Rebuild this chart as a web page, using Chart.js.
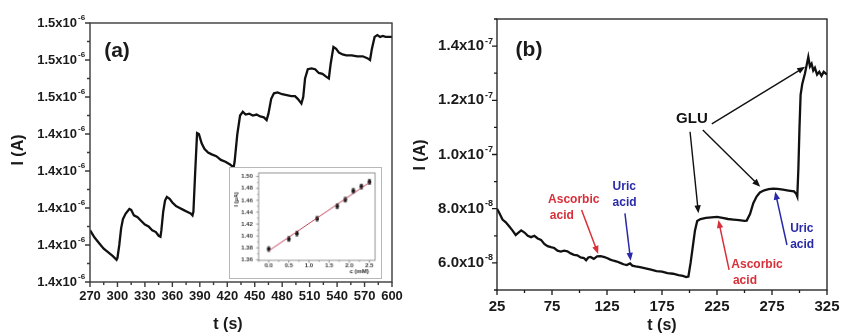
<!DOCTYPE html>
<html>
<head>
<meta charset="utf-8">
<script src="https://cdn.jsdelivr.net/npm/chart.js@4.4.1/dist/chart.umd.min.js"></script>
<style>
  body { margin: 0; background: #fff; }
  #wrap { position: relative; width: 842px; height: 336px; overflow: hidden; }
  #chart-a { position: absolute; left: 0; top: 0; }
  #chart-b { position: absolute; left: 400px; top: 0; }
  #chart-inset { position: absolute; left: 229px; top: 167px; border: 1px solid #b8b8b8; box-sizing: border-box; background: #fff; }
</style>
</head>
<body>
<div id="wrap">
  <canvas id="chart-a" width="420" height="336"></canvas>
  <canvas id="chart-b" width="442" height="336"></canvas>
  <canvas id="chart-inset" width="153" height="112"></canvas>
</div>
<script>
// panel (a): t in s, I in µA (axis shows 10^-6 A)
const tA = [270, 275, 280, 285, 290, 295, 299, 300, 302, 304, 306, 309, 313, 315, 318, 322, 326, 330, 334, 338,
  342, 345, 347, 348, 350, 352, 354, 357, 360, 364, 368, 372, 376, 380, 382, 383, 385, 387, 389, 392,
  395, 399, 403, 408, 413, 418, 423, 427, 428, 431, 434, 437, 440, 444, 448, 452, 456, 460, 463, 465,
  468, 471, 475, 480, 485, 490, 494, 497, 501, 503, 505, 508, 512, 516, 520, 524, 528, 531, 533, 536,
  539, 542, 546, 550, 556, 562, 568, 573, 576, 578, 581, 584, 587, 590, 593, 596, 600];
const iA = [1.388, 1.384, 1.381, 1.378, 1.376, 1.374, 1.372, 1.373, 1.380, 1.389, 1.394, 1.397, 1.3995, 1.399, 1.396, 1.395, 1.393, 1.391, 1.390, 1.388,
  1.387, 1.385, 1.3845, 1.388, 1.398, 1.404, 1.406, 1.405, 1.403, 1.401, 1.400, 1.399, 1.398, 1.397, 1.396, 1.398, 1.420, 1.4405, 1.440, 1.435,
  1.432, 1.430, 1.429, 1.428, 1.426, 1.425, 1.4235, 1.422, 1.425, 1.440, 1.450, 1.452, 1.4505, 1.451, 1.450, 1.4505, 1.4495, 1.449, 1.4475, 1.451,
  1.459, 1.462, 1.4625, 1.4615, 1.461, 1.4605, 1.4605, 1.459, 1.4565, 1.460, 1.470, 1.475, 1.4755, 1.475, 1.473, 1.4725, 1.471, 1.470, 1.478, 1.487,
  1.486, 1.484, 1.483, 1.4825, 1.4825, 1.482, 1.482, 1.481, 1.480, 1.486, 1.4925, 1.4935, 1.4925, 1.493, 1.4925, 1.4925, 1.4925];

// inset: calibration, c in mM, I in µA
const cIn = [0.0, 0.5, 0.7, 1.2, 1.7, 1.9, 2.1, 2.3, 2.5];
const iIn = [1.378, 1.395, 1.404, 1.429, 1.450, 1.461, 1.476, 1.483, 1.491];
const errIn = [0.004, 0.004, 0.004, 0.004, 0.004, 0.004, 0.004, 0.004, 0.004];
const fitC = [0.0, 2.5];
const fitI = [1.375, 1.490];

// panel (b): t in s, I in 10^-8 A
const tB = [25, 27, 30, 33, 36, 39, 42, 44, 47, 50, 53, 56, 59, 62, 65, 68, 71, 74, 77, 80,
  83, 86, 89, 92, 95, 98, 101, 104, 106, 108, 110, 113, 116, 119, 122, 125, 128, 131, 134, 137,
  140, 143, 146, 148, 151, 155, 160, 165, 170, 175, 180, 185, 190, 194, 197, 199, 201, 203, 205, 207,
  210, 215, 220, 225, 230, 235, 240, 245, 250, 252, 255, 258, 261, 264, 268, 272, 276, 280, 285, 290,
  295, 297, 298, 299, 300, 301, 302.5, 305, 307, 308, 309.5, 311, 312.5, 314, 316, 318, 320, 322, 325];
const iB = [8.0, 7.85, 7.6, 7.5, 7.35, 7.2, 7.03, 7.1, 7.2, 7.12, 7.0, 6.95, 7.0, 6.9, 6.85, 6.7, 6.62, 6.58, 6.55, 6.45,
  6.42, 6.45, 6.43, 6.35, 6.3, 6.28, 6.2, 6.18, 6.1, 6.2, 6.22, 6.15, 6.24, 6.25, 6.22, 6.18, 6.12, 6.08, 6.05, 6.0,
  5.95, 5.92, 5.98, 5.9, 5.87, 5.84, 5.8, 5.75, 5.7, 5.68, 5.62, 5.6, 5.55, 5.52, 5.48, 5.5, 6.0, 6.6, 7.2, 7.55,
  7.62, 7.66, 7.68, 7.7, 7.66, 7.62, 7.6, 7.58, 7.55, 7.56, 7.8, 8.2, 8.45, 8.6, 8.68, 8.72, 8.74, 8.73, 8.7, 8.67,
  8.64, 8.55, 8.45, 9.5, 11.0, 12.2, 12.6, 13.0, 13.4, 13.6, 13.25, 13.35, 13.1, 13.2, 12.95, 13.05, 12.9, 13.05, 12.95];

// panel (b) annotations, in data units
const noteText = ['GLU', 'Ascorbic', 'acid', 'Uric', 'acid', 'Ascorbic', 'acid', 'Uric', 'acid'];
const noteT = [202.2, 71.4, 73, 130.1, 130.1, 238, 239.5, 291.5, 291.5];
const noteV = [11.33, 8.35, 7.74, 8.81, 8.22, 5.92, 5.34, 7.28, 6.66];
const noteColor = ['#111', '#d8303a', '#d8303a', '#2a2aa8', '#2a2aa8', '#d8303a', '#d8303a', '#2a2aa8', '#2a2aa8'];
const arrowFromT = [220.3, 200.5, 212.1, 101.9, 141.3, 236.0, 288.6];
const arrowFromV = [11.13, 10.84, 10.9, 7.95, 7.83, 5.74, 6.66];
const arrowToT = [305.2, 208.1, 264.3, 117.0, 146.5, 226.3, 277.9];
const arrowToV = [13.24, 7.83, 8.81, 6.33, 6.08, 7.58, 8.63];
const arrowColor = ['#111', '#111', '#111', '#d8303a', '#2a2aa8', '#d8303a', '#2a2aa8'];

Chart.defaults.font.family = '"Liberation Sans", Arial, sans-serif';
Chart.defaults.color = '#1a1a1a';

// frame, outward ticks (major/minor), superscript exponents, titles
const decor = {
  id: 'decor',
  afterDraw(chart, args, o) {
    const { ctx, chartArea: a } = chart;
    const x = chart.scales.x, y = chart.scales.y;
    ctx.save();
    ctx.strokeStyle = o.color;
    ctx.lineWidth = o.lw;
    ctx.strokeRect(a.left, a.top, a.right - a.left, a.bottom - a.top);
    ctx.beginPath();
    x.ticks.forEach((t) => {
      const px = x.getPixelForValue(t.value);
      if (px < a.left - 0.5 || px > a.right + 0.5) return;
      ctx.moveTo(px, a.bottom);
      ctx.lineTo(px, a.bottom + (t.label ? o.major : o.minor));
    });
    y.ticks.forEach((t) => {
      const py = y.getPixelForValue(t.value);
      if (py < a.top - 0.5 || py > a.bottom + 0.5) return;
      ctx.moveTo(a.left, py);
      ctx.lineTo(a.left - (t.label ? o.major : o.minor), py);
    });
    ctx.stroke();
    ctx.fillStyle = '#1a1a1a';
    if (o.exp) {
      ctx.font = o.expFont;
      ctx.textAlign = 'left';
      ctx.textBaseline = 'middle';
      y.ticks.forEach((t) => {
        if (!t.label) return;
        ctx.fillText(o.exp(t.value), a.left - y.options.ticks.padding + 1, y.getPixelForValue(t.value) - 5);
      });
    }
    (o.texts || []).forEach((s) => {
      ctx.save();
      ctx.font = s.font;
      ctx.textAlign = 'center';
      ctx.textBaseline = 'middle';
      const cx = s.fromLeft ? a.left + s.dx : (a.left + a.right) / 2 + s.dx;
      const cy = s.fromBottom ? a.bottom + s.dy : a.top + s.dy;
      ctx.translate(s.absX !== undefined ? s.absX : cx, s.absY !== undefined ? s.absY : cy);
      if (s.rot) ctx.rotate(s.rot);
      ctx.fillText(s.text, 0, 0);
      ctx.restore();
    });
    ctx.restore();
  }
};

const notes = {
  id: 'notes',
  afterDraw(chart) {
    const { ctx } = chart;
    const x = chart.scales.x, y = chart.scales.y;
    ctx.save();
    noteText.forEach((txt, i) => {
      ctx.font = i === 0 ? 'bold 15px "Liberation Sans", Arial' : 'bold 12px "Liberation Sans", Arial';
      ctx.fillStyle = noteColor[i];
      ctx.textAlign = i === 0 ? 'center' : 'left';
      ctx.textBaseline = 'middle';
      ctx.fillText(txt, x.getPixelForValue(noteT[i]), y.getPixelForValue(noteV[i]));
    });
    arrowFromT.forEach((_, i) => {
      const x0 = x.getPixelForValue(arrowFromT[i]), y0 = y.getPixelForValue(arrowFromV[i]);
      const x1 = x.getPixelForValue(arrowToT[i]), y1 = y.getPixelForValue(arrowToV[i]);
      const ang = Math.atan2(y1 - y0, x1 - x0);
      const hl = 8, hw = 3.2;
      ctx.strokeStyle = arrowColor[i];
      ctx.fillStyle = arrowColor[i];
      ctx.lineWidth = i < 3 ? 1.4 : 1.5;
      ctx.beginPath();
      ctx.moveTo(x0, y0);
      ctx.lineTo(x1 - Math.cos(ang) * hl * 0.8, y1 - Math.sin(ang) * hl * 0.8);
      ctx.stroke();
      ctx.beginPath();
      ctx.moveTo(x1, y1);
      ctx.lineTo(x1 - Math.cos(ang) * hl - Math.sin(ang) * hw, y1 - Math.sin(ang) * hl + Math.cos(ang) * hw);
      ctx.lineTo(x1 - Math.cos(ang) * hl + Math.sin(ang) * hw, y1 - Math.sin(ang) * hl - Math.cos(ang) * hw);
      ctx.closePath();
      ctx.fill();
    });
    ctx.restore();
  }
};

const errorBars = {
  id: 'errorBars',
  afterDatasetsDraw(chart) {
    const { ctx } = chart;
    const x = chart.scales.x, y = chart.scales.y;
    ctx.save();
    ctx.strokeStyle = '#222';
    ctx.lineWidth = 0.8;
    ctx.beginPath();
    cIn.forEach((c, i) => {
      const px = x.getPixelForValue(c);
      const top = y.getPixelForValue(iIn[i] + errIn[i]);
      const bot = y.getPixelForValue(iIn[i] - errIn[i]);
      ctx.moveTo(px, top); ctx.lineTo(px, bot);
      ctx.moveTo(px - 1.5, top); ctx.lineTo(px + 1.5, top);
      ctx.moveTo(px - 1.5, bot); ctx.lineTo(px + 1.5, bot);
    });
    ctx.stroke();
    ctx.restore();
  }
};

function fixX(h) {
  return (s) => { s.height = h; s.paddingLeft = 0; s.paddingRight = 0; };
}
function fixY(w) {
  return (s) => { s.width = w; s.paddingTop = 0; s.paddingBottom = 0; };
}
const noGrid = { display: false, drawTicks: false };

// (a)
new Chart(document.getElementById('chart-a'), {
  type: 'line',
  data: {
    datasets: [{
      data: tA.map((t, i) => ({ x: t, y: iA[i] })),
      borderColor: '#111',
      borderWidth: 2.3,
      pointRadius: 0,
      tension: 0,
    }],
  },
  options: {
    responsive: false,
    animation: false,
    layout: { padding: { left: 0, top: 23, right: 28, bottom: 0 } },
    plugins: {
      legend: { display: false },
      tooltip: { enabled: false },
      decor: {
        color: '#3a3a3a', lw: 1.4, major: 5, minor: 3,
        exp: () => '-6', expFont: 'bold 8px "Liberation Sans", Arial',
        texts: [
          { text: '(a)', font: 'bold 21px "Liberation Sans", Arial', fromLeft: true, dx: 27, dy: 28 },
          { text: 't (s)', font: 'bold 16px "Liberation Sans", Arial', dx: -13, fromBottom: true, dy: 43 },
          { text: 'I (A)', font: 'bold 16px "Liberation Sans", Arial', absX: 19, absY: 150, rot: -Math.PI / 2 },
        ],
      },
    },
    scales: {
      x: {
        type: 'linear', min: 270, max: 600,
        grid: noGrid, border: { display: false },
        afterFit: fixX(54),
        ticks: {
          stepSize: 15, includeBounds: false, maxRotation: 0, autoSkip: false, padding: 7,
          font: { size: 13, weight: 'bold' },
          callback: (v) => (v % 30 === 0 ? String(v) : ''),
        },
      },
      y: {
        type: 'linear', min: 1.36, max: 1.50,
        grid: noGrid, border: { display: false },
        afterFit: fixY(90),
        ticks: {
          stepSize: 0.01, includeBounds: false, autoSkip: false, padding: 13,
          font: { size: 13, weight: 'bold' },
          callback: (v) => (Math.round(v * 100) % 2 === 0 ? v.toFixed(1) + 'x10' : ''),
        },
      },
    },
  },
  plugins: [decor],
});

// inset
new Chart(document.getElementById('chart-inset'), {
  type: 'scatter',
  data: {
    datasets: [
      {
        type: 'line',
        data: fitC.map((c, i) => ({ x: c, y: fitI[i] })),
        borderColor: '#c2435a',
        borderWidth: 1,
        pointRadius: 0,
      },
      {
        data: cIn.map((c, i) => ({ x: c, y: iIn[i] })),
        pointStyle: 'rect',
        pointRadius: 1.8,
        backgroundColor: '#111',
        borderColor: '#111',
      },
    ],
  },
  options: {
    responsive: false,
    animation: false,
    layout: { padding: { left: 0, top: 5, right: 6, bottom: 0 } },
    plugins: {
      legend: { display: false },
      tooltip: { enabled: false },
      decor: {
        color: '#777', lw: 0.8, major: 2.5, minor: 1.5,
        texts: [
          { text: 'c (mM)', font: 'bold 6px "Liberation Sans", Arial', absX: 131, absY: 105 },
          { text: 'I (\u00b5A)', font: 'bold 6px "Liberation Sans", Arial', absX: 6, absY: 32, rot: -Math.PI / 2 },
        ],
      },
    },
    scales: {
      x: {
        type: 'linear', min: -0.25, max: 2.64,
        grid: noGrid, border: { display: false },
        afterFit: fixX(18),
        ticks: {
          stepSize: 0.25, includeBounds: false, autoSkip: false, maxRotation: 0, padding: 2,
          font: { size: 6, weight: 'bold' }, color: '#333',
          callback: (v) => (v >= 0 && Math.round(v * 4) % 2 === 0 ? v.toFixed(1) : ''),
        },
      },
      y: {
        type: 'linear', min: 1.359, max: 1.506,
        grid: noGrid, border: { display: false },
        afterFit: fixY(29),
        ticks: {
          stepSize: 0.01, includeBounds: false, autoSkip: false, padding: 6,
          font: { size: 6, weight: 'bold' }, color: '#333',
          callback: (v) => (Math.round(v * 100) % 2 === 0 ? v.toFixed(2) : ''),
        },
      },
    },
  },
  plugins: [decor, errorBars],
});

// (b)
new Chart(document.getElementById('chart-b'), {
  type: 'line',
  data: {
    datasets: [{
      data: tB.map((t, i) => ({ x: t, y: iB[i] })),
      borderColor: '#111',
      borderWidth: 2.3,
      pointRadius: 0,
      tension: 0,
    }],
  },
  options: {
    responsive: false,
    animation: false,
    layout: { padding: { left: 0, top: 19, right: 15, bottom: 0 } },
    plugins: {
      legend: { display: false },
      tooltip: { enabled: false },
      decor: {
        color: '#1a1a1a', lw: 1.3, major: 5, minor: 3,
        exp: (v) => (v >= 10 ? '-7' : '-8'), expFont: 'bold 9px "Liberation Sans", Arial',
        texts: [
          { text: '(b)', font: 'bold 21px "Liberation Sans", Arial', fromLeft: true, dx: 32, dy: 31 },
          { text: 't (s)', font: 'bold 16px "Liberation Sans", Arial', dx: 0, fromBottom: true, dy: 36 },
          { text: 'I (A)', font: 'bold 16px "Liberation Sans", Arial', absX: 21, absY: 155, rot: -Math.PI / 2 },
        ],
      },
    },
    scales: {
      x: {
        type: 'linear', min: 25, max: 325,
        grid: noGrid, border: { display: false },
        afterFit: fixX(46),
        ticks: {
          stepSize: 25, includeBounds: false, maxRotation: 0, autoSkip: false, padding: 8,
          font: { size: 15, weight: 'bold' },
          callback: (v) => ((v - 25) % 50 === 0 ? String(v) : ''),
        },
      },
      y: {
        type: 'linear', min: 5, max: 15,
        grid: noGrid, border: { display: false },
        afterFit: fixY(97),
        ticks: {
          stepSize: 1, includeBounds: false, autoSkip: false, padding: 13,
          font: { size: 15, weight: 'bold' },
          callback: (v) => (v % 2 !== 0 ? '' : (v >= 10 ? (v / 10).toFixed(1) : v.toFixed(1)) + 'x10'),
        },
      },
    },
  },
  plugins: [decor, notes],
});
</script>
</body>
</html>
